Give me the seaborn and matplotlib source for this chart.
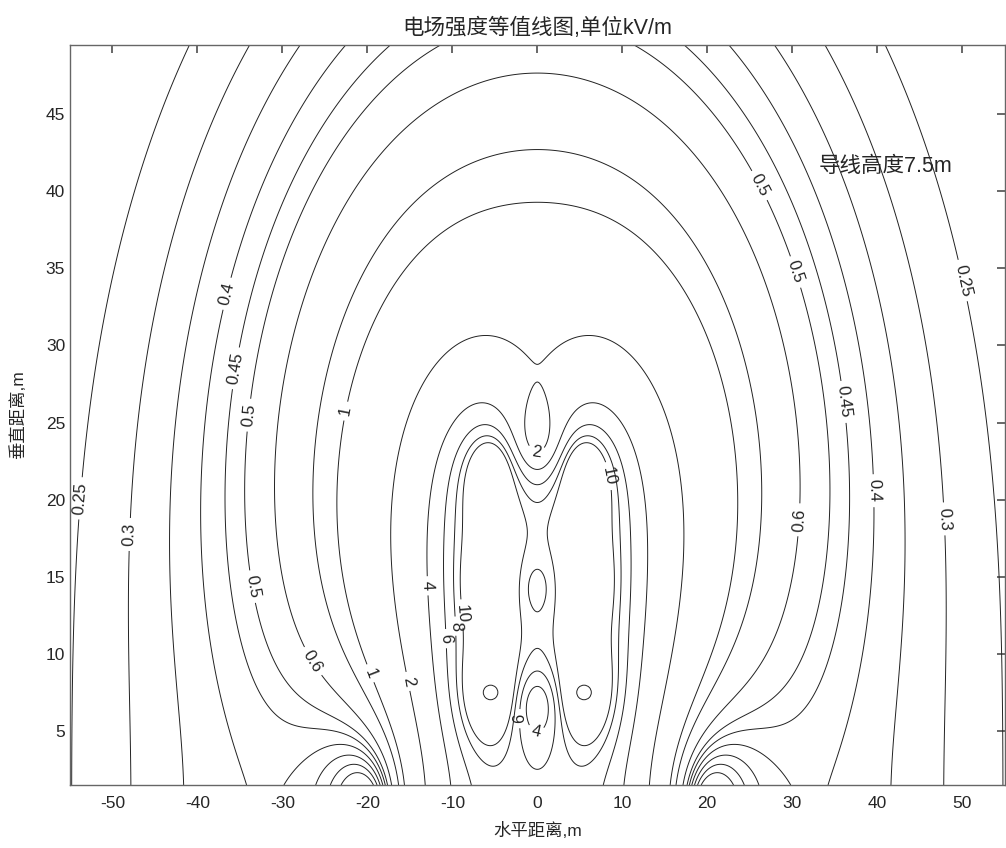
"""Electric field contour under a double-circuit line (vertical arrangement)."""

import matplotlib

matplotlib.use("Agg")

import matplotlib.pyplot as plt
import numpy as np
import seaborn as sns

sns.set_theme(style="white")
plt.rcParams["font.family"] = ["Liberation Sans", "Noto Sans CJK SC", "DejaVu Sans"]
plt.rcParams["axes.unicode_minus"] = False

# conductor geometry (m), phase angles (deg), phase voltage (kV), equivalent radius (m)
cond_x = [-5.5, -5.5, -5.5, 5.5, 5.5, 5.5]
cond_h = [21.5, 14.5, 7.5, 21.5, 14.5, 7.5]
cond_phase = [0, -120, 120, 0, -120, 120]
phase_voltage = 125.0
equiv_radius = 0.2

levels = [0.25, 0.3, 0.35, 0.4, 0.45, 0.5, 0.6, 0.8, 1, 2, 4, 6, 8, 10]
marked_x = [-5.5, 5.5]
marked_h = [7.5, 7.5]

# where the contour labels sit
label_x = [-51.8, -45.9, -37.6, -36.4, -34.3, -33.1, -24.0, -26.5, -20.3, -16.3,
           -13.6, -9.2, -9.7, -10.3, -0.2, 7.1, -1.9, -0.2,
           25.9, 30.6, 47.5, 37.0, 41.1, 45.8, 30.6]
label_y = [20.0, 17.7, 33.5, 28.6, 25.5, 14.4, 25.9, 9.5, 8.6, 8.1,
           14.4, 12.6, 11.8, 11.0, 22.7, 21.4, 5.8, 4.9,
           40.3, 34.8, 33.9, 26.4, 20.6, 18.7, 18.7]

x_range = (-55, 55)
y_range = (1.5, 49.5)

# charges from Maxwell potential coefficients (in units of 1/(2*pi*eps0))
cx = np.array(cond_x)
ch = np.array(cond_h)
n = len(cx)
P = np.zeros((n, n))
for i in range(n):
    for j in range(n):
        if i == j:
            P[i, j] = np.log(2 * ch[i] / equiv_radius)
        else:
            d = np.hypot(cx[i] - cx[j], ch[i] - ch[j])
            d_img = np.hypot(cx[i] - cx[j], ch[i] + ch[j])
            P[i, j] = np.log(d_img / d)
volts = phase_voltage * np.exp(1j * np.deg2rad(cond_phase))
q = np.linalg.solve(P, volts)

xs = np.linspace(*x_range, 881)
ys = np.linspace(*y_range, 481)
X, Y = np.meshgrid(xs, ys)
Ex = np.zeros_like(X, dtype=complex)
Ey = np.zeros_like(X, dtype=complex)
for qi, xi, hi in zip(q, cx, ch):
    dx = X - xi
    r1 = dx**2 + (Y - hi) ** 2
    r2 = dx**2 + (Y + hi) ** 2
    Ex += qi * (dx / r1 - dx / r2)
    Ey += qi * ((Y - hi) / r1 - (Y + hi) / r2)
E = np.sqrt(np.abs(Ex) ** 2 + np.abs(Ey) ** 2)

fig = plt.figure(figsize=(10.06, 8.48), dpi=100)
ax = fig.add_axes([0.0696, 0.0743, 0.929, 0.873])
cs = ax.contour(X, Y, E, levels=levels, colors="#222222", linewidths=0.7)
ax.clabel(cs, inline=True, fmt="%g", fontsize=12,
          manual=list(zip(label_x, label_y)))
sns.scatterplot(x=marked_x, y=marked_h, ax=ax, marker="o", s=110,
                facecolor="none", edgecolor="#222222", linewidth=0.7)

ax.set_xlim(*x_range)
ax.set_ylim(*y_range)
ax.set_xticks(range(-50, 51, 10))
ax.set_yticks(range(5, 46, 5))
ax.tick_params(direction="in", top=True, right=True, length=6, labelsize=12.5,
               color="#555555")
ax.tick_params(axis="x", pad=8)
for s in ax.spines.values():
    s.set_color("#666666")
    s.set_linewidth(1.0)
ax.set_title("电场强度等值线图,单位kV/m", fontsize=15.5, pad=8)
ax.set_xlabel("水平距离,m", fontsize=12.5, labelpad=8)
ax.set_ylabel("垂直距离,m", fontsize=12.5, labelpad=14)
ax.text(41, 41.6, "导线高度7.5m", fontsize=15.5, ha="center", va="center")

fig.savefig("out.png", dpi=100)
